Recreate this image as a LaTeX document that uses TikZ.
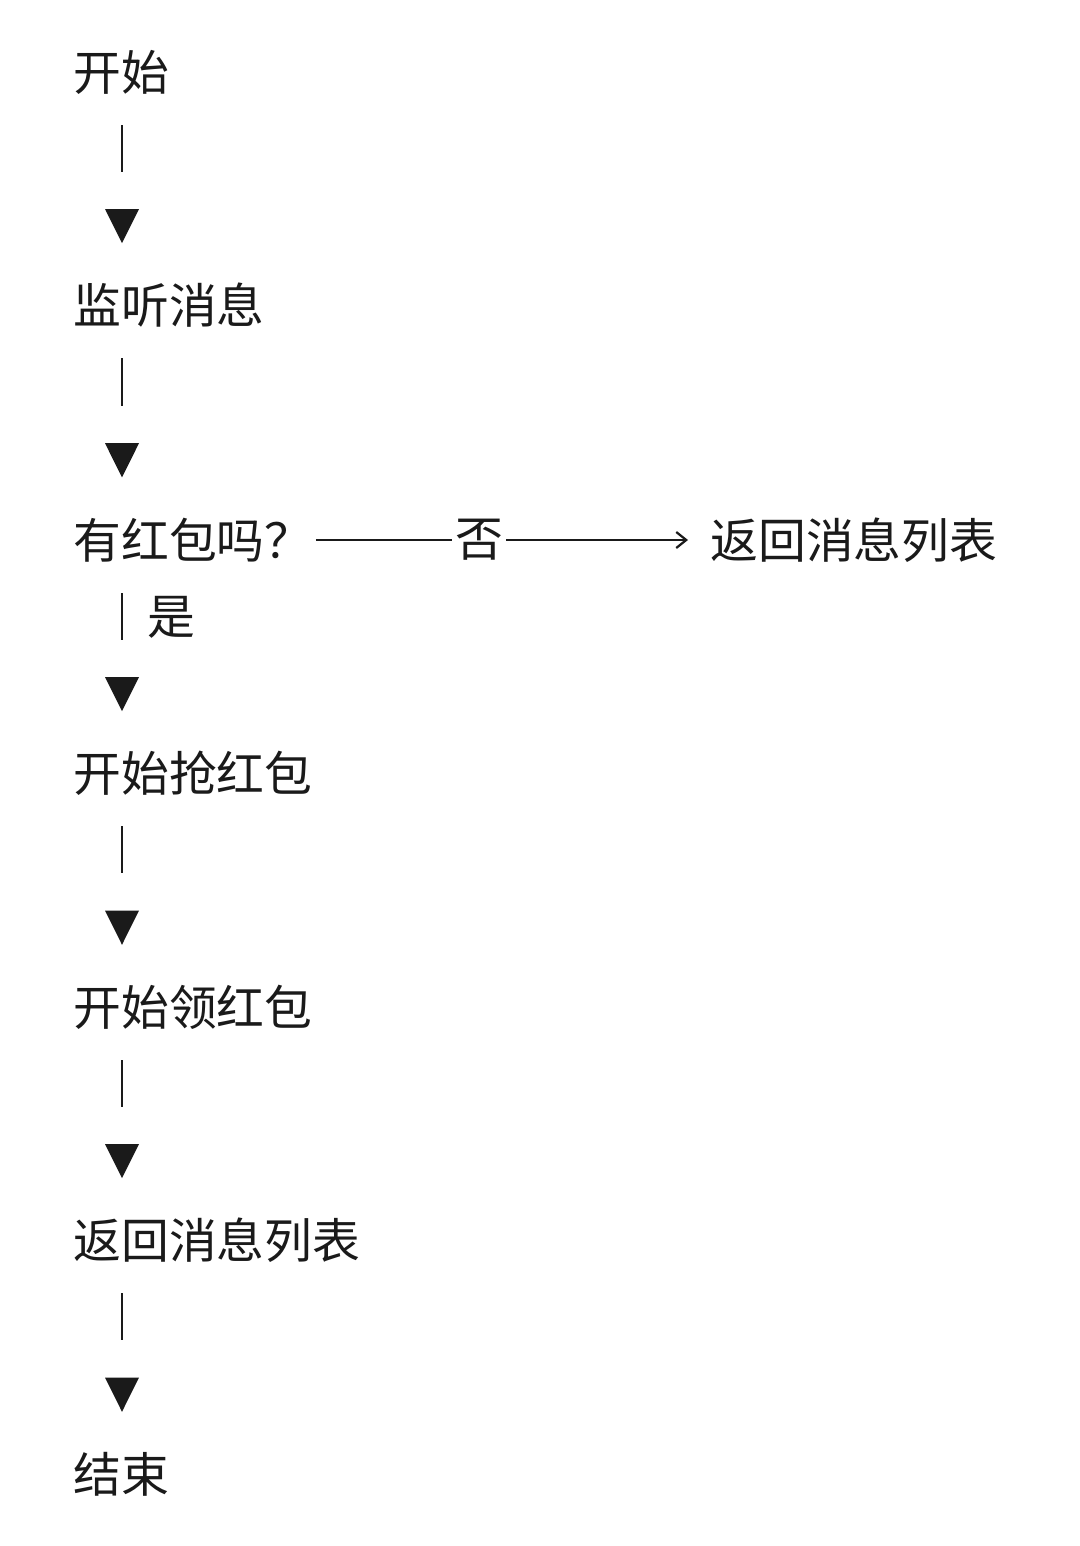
\documentclass[tikz,border=0pt]{standalone}
\usepackage{fontspec}
\newfontfamily\cjk{Noto Sans CJK SC}
\usetikzlibrary{calc,arrows.meta}
\definecolor{ink}{HTML}{1A1A1A}
\tikzset{
  lbl/.style={inner sep=0pt, anchor=west, text=ink, font=\cjk\fontsize{23.9pt}{28pt}\selectfont},
  bar/.style={draw=ink, line width=1pt},
  hline/.style={draw=ink, line width=1.25pt},
}
\newcommand\vconn[2]{%
  \draw[bar] ($(#1.west)!0.2275!(#2.west)+(49,0)$) -- ($(#1.west)!0.429!(#2.west)+(49,0)$);
  \fill[ink] ($(#1.west)!0.588!(#2.west)+(32,0)$) -- ++(34,0) -- ($(#1.west)!0.734!(#2.west)+(49,0)$) -- cycle;
}
\begin{document}
\begin{tikzpicture}[x=0.5pt,y=-0.5pt]
\useasboundingbox[fill=white] (0,0) rectangle (1080,1546);
\node[lbl] (start) at (73,72) {开始};
\node[lbl] (listen) at (73,305) {监听消息};
\node[lbl] (q) at (73,540) {有红包吗？};
\node[lbl, anchor=center] (no) at (479,540) {否};
\node[lbl] (ret2) at (710,540) {返回消息列表};
\node[lbl] (grab) at (73,773) {开始抢红包};
\node[lbl] (recv) at (73,1007) {开始领红包};
\node[lbl] (ret) at (73,1240) {返回消息列表};
\node[lbl] (end) at (73,1474) {结束};
\node[lbl] (yes) at (147,617) {是};
\vconn{start}{listen}
\vconn{listen}{q}
\vconn{q}{grab}
\vconn{grab}{recv}
\vconn{recv}{ret}
\vconn{ret}{end}
\draw[hline, shorten <=1.5pt, shorten >=1.5pt] (q.east) -- (no.west);
\draw[hline, shorten <=1.5pt, shorten >=11pt, -{Straight Barb[length=5pt,width=8pt,line width=1.1pt]}] (no.east) -- (ret2.west);
\end{tikzpicture}
\end{document}
